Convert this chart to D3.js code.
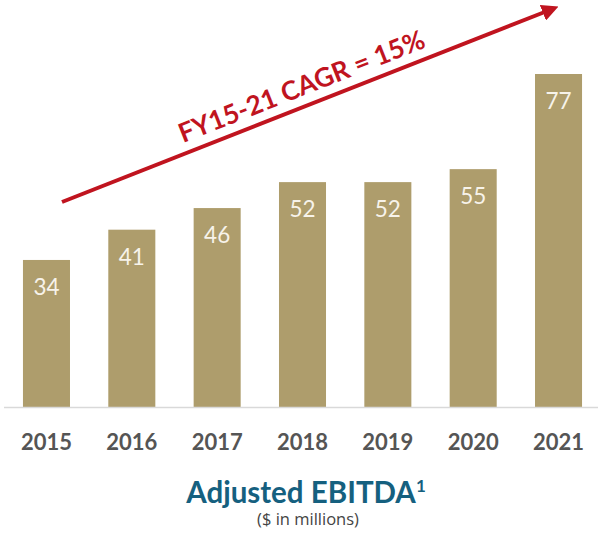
<!DOCTYPE html>
<html>
<head>
<meta charset="utf-8">
<script src="https://cdn.jsdelivr.net/npm/d3@7"></script>
<style>
  html, body { margin: 0; padding: 0; background: #ffffff; }
  svg { display: block; }
</style>
</head>
<body>
<svg id="chart" width="598" height="533"></svg>
<script>
const years = ["2015", "2016", "2017", "2018", "2019", "2020", "2021"];
const ebitda = [34, 41, 46, 52, 52, 55, 77];
const cagrLabel = "FY15-21 CAGR = 15%";
const titleText = "Adjusted EBITDA";
const titleSup = "1";
const subtitleText = "($ in millions)";

const svg = d3.select("#chart");
const W = 598, H = 533;
const baseY = 407, topY = 74;

const x = d3.scaleBand()
  .domain(years)
  .range([3.8, 601.2])
  .paddingInner(0.449)
  .paddingOuter(0.2245);

const y = d3.scaleLinear()
  .domain([0, d3.max(ebitda)])
  .range([baseY, topY]);

const data = years.map((yr, i) => ({ year: yr, value: ebitda[i] }));

// bars
svg.append("g").selectAll("rect")
  .data(data)
  .join("rect")
  .attr("x", d => x(d.year))
  .attr("y", d => y(d.value))
  .attr("width", x.bandwidth())
  .attr("height", d => y(0) - y(d.value))
  .attr("fill", "#ae9d6c");

// baseline axis
const axis = svg.append("g")
  .attr("transform", `translate(0,${baseY})`)
  .call(d3.axisBottom(x).tickSize(0).tickPadding(0));
axis.select(".domain").remove();
axis.append("line")
  .attr("x1", 4).attr("x2", W)
  .attr("y1", 0.5).attr("y2", 0.5)
  .attr("stroke", "#d9d9d9").attr("stroke-width", 1.5);
axis.selectAll(".tick text")
  .attr("y", 43)
  .attr("dy", 0)
  .attr("fill", "#555555")
  .attr("font-family", "Lato, 'Open Sans', sans-serif")
  .attr("font-weight", "bold")
  .attr("font-size", 22);

// value labels
svg.append("g").selectAll("text")
  .data(data)
  .join("text")
  .attr("x", d => x(d.year) + x.bandwidth() / 2)
  .attr("y", d => y(d.value) + 35)
  .attr("text-anchor", "middle")
  .attr("fill", "#f7f3ea")
  .attr("font-family", "Lato, 'Open Sans', sans-serif")
  .attr("font-size", 22.5)
  .text(d => d.value);

// CAGR arrow
const defs = svg.append("defs");
defs.append("marker")
  .attr("id", "arrowhead")
  .attr("viewBox", "0 0 10 10")
  .attr("refX", 2).attr("refY", 5)
  .attr("markerWidth", 4.2).attr("markerHeight", 4.2)
  .attr("orient", "auto")
  .attr("markerUnits", "strokeWidth")
  .append("path")
  .attr("d", "M0,0 L10,5 L0,10 Z")
  .attr("fill", "#c0141f");

const ax0 = 62, ay0 = 202, ax1 = 546, ay1 = 11.5;
svg.append("line")
  .attr("x1", ax0).attr("y1", ay0)
  .attr("x2", ax1).attr("y2", ay1)
  .attr("stroke", "#c0141f")
  .attr("stroke-width", 4)
  .attr("marker-end", "url(#arrowhead)");

const angle = Math.atan2(7 - ay0, 557 - ax0) * 180 / Math.PI;
svg.append("text")
  .attr("transform", `translate(305,95) rotate(${angle})`)
  .attr("text-anchor", "middle")
  .attr("fill", "#c0141f")
  .attr("font-family", "Lato, 'Open Sans', sans-serif")
  .attr("font-weight", "bold")
  .attr("font-size", 26.5)
  .text(cagrLabel);

// title
const title = svg.append("text")
  .attr("x", 306).attr("y", 503)
  .attr("text-anchor", "middle")
  .attr("fill", "#15607f")
  .attr("font-family", "Lato, 'Open Sans', sans-serif")
  .attr("font-weight", "bold")
  .attr("font-size", 29.5);
title.append("tspan").text(titleText);
title.append("tspan")
  .attr("font-size", 17)
  .attr("dy", -11)
  .text(titleSup);

svg.append("text")
  .attr("x", 308).attr("y", 525)
  .attr("text-anchor", "middle")
  .attr("fill", "#444444")
  .attr("font-family", "'Open Sans', Lato, sans-serif")
  .attr("font-size", 16.5)
  .text(subtitleText);
</script>
</body>
</html>
